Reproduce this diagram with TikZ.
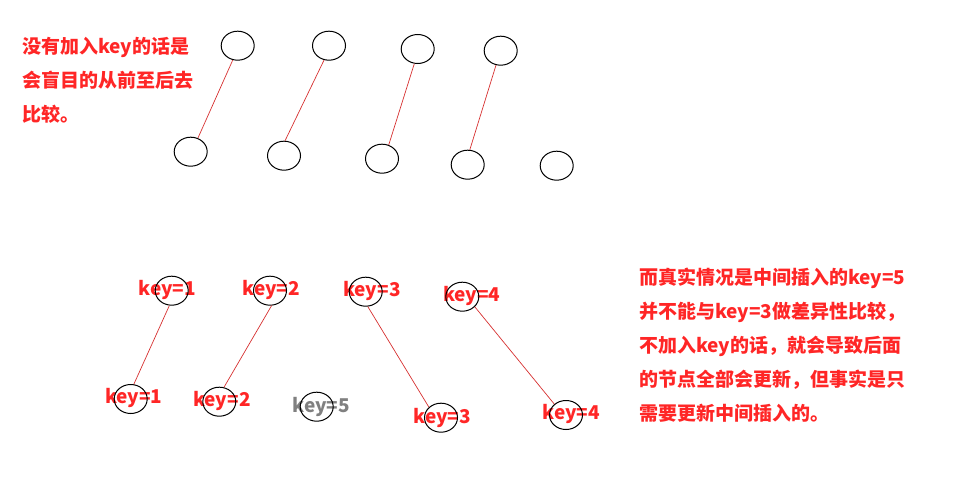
\documentclass[tikz,border=0pt]{standalone}
\usepackage{fontspec}
\newfontfamily\cjk{Noto Sans CJK SC}
\usetikzlibrary{shapes.geometric}
\definecolor{notered}{RGB}{255,38,38}
\definecolor{linkred}{RGB}{214,48,48}
\definecolor{newgray}{RGB}{128,128,128}
\tikzstyle{vnode}=[ellipse, draw, black, line width=1pt, minimum width=33pt, minimum height=29pt, inner sep=0pt]
\tikzstyle{keylabel}=[font=\cjk\bfseries\fontsize{19}{19}\selectfont, notered, inner sep=0pt]
\tikzstyle{note}=[keylabel, align=left, anchor=west, font=\cjk\bfseries\fontsize{19}{34}\selectfont]
\tikzstyle{link}=[linkred, line width=0.7pt]

\begin{document}
\begin{tikzpicture}[x=1pt, y=-1pt]
\useasboundingbox (0,0) rectangle (958,492);
% Notes
    \node[note] (leftnote) at (22,80) {没有加入key的话是\\会盲目的从前至后去\\比较。};
    \node[note] (rightnote) at (639,345) {而真实情况是中间插入的key=5\\并不能与key=3做差异性比较，\\不加入key的话，就会导致后面\\的节点全部会更新，但事实是只\\需要更新中间插入的。};
% Without keys
    \node[vnode] (t1) at (237.7,45.7) {};
    \node[vnode] (t2) at (329,45.7) {};
    \node[vnode] (t3) at (417.7,49) {};
    \node[vnode] (t4) at (500.7,50.7) {};
    \node[vnode] (b1) at (190.7,151.7) {};
    \node[vnode] (b2) at (284,155.7) {};
    \node[vnode] (b3) at (382,158.7) {};
    \node[vnode] (b4) at (467.7,164.7) {};
    \node[vnode] (b5) at (556.7,165.7) {};
    \draw[link] (t1.251) -- (b1.62);
    \draw[link] (t2.251) -- (b2.86);
    \draw[link] (t3.257) -- (b3.64);
    \draw[link] (t4.252) -- (b4.82);
% With keys: labels
    \node[keylabel] (la1) at (167.3,290) {key=1};
    \node[keylabel] (la2) at (271.3,290) {key=2};
    \node[keylabel] (la3) at (372,290.7) {key=3};
    \node[keylabel] (la4) at (471.7,295.7) {key=4};
    \node[keylabel] (lb1) at (133.8,397.7) {key=1};
    \node[keylabel] (lb2) at (222,400.7) {key=2};
    \node[keylabel, newgray] (lb5) at (321.3,406.7) {key=5};
    \node[keylabel] (lb3) at (442.2,417.7) {key=3};
    \node[keylabel] (lb4) at (571.3,414.3) {key=4};
% With keys: nodes
    \node[vnode] (ka1) at (171.7,290.7) {};
    \node[vnode] (ka2) at (270,290.7) {};
    \node[vnode] (ka3) at (365.7,291.7) {};
    \node[vnode] (ka4) at (462.3,296.7) {};
    \node[vnode] (kb1) at (130.7,399) {};
    \node[vnode] (kb2) at (219.3,401.7) {};
    \node[vnode] (kb5) at (316.7,406.7) {};
    \node[vnode] (kb3) at (441,417.7) {};
    \node[vnode] (kb4) at (566,415) {};
    \draw[link] (ka1.261) -- (kb1.78);
    \draw[link] (ka2.276) -- (kb2.72);
    \draw[link] (ka3.278) -- (kb3.139);
    \draw[link] (ka4.321) -- (kb4.137);
\end{tikzpicture}
\end{document}
